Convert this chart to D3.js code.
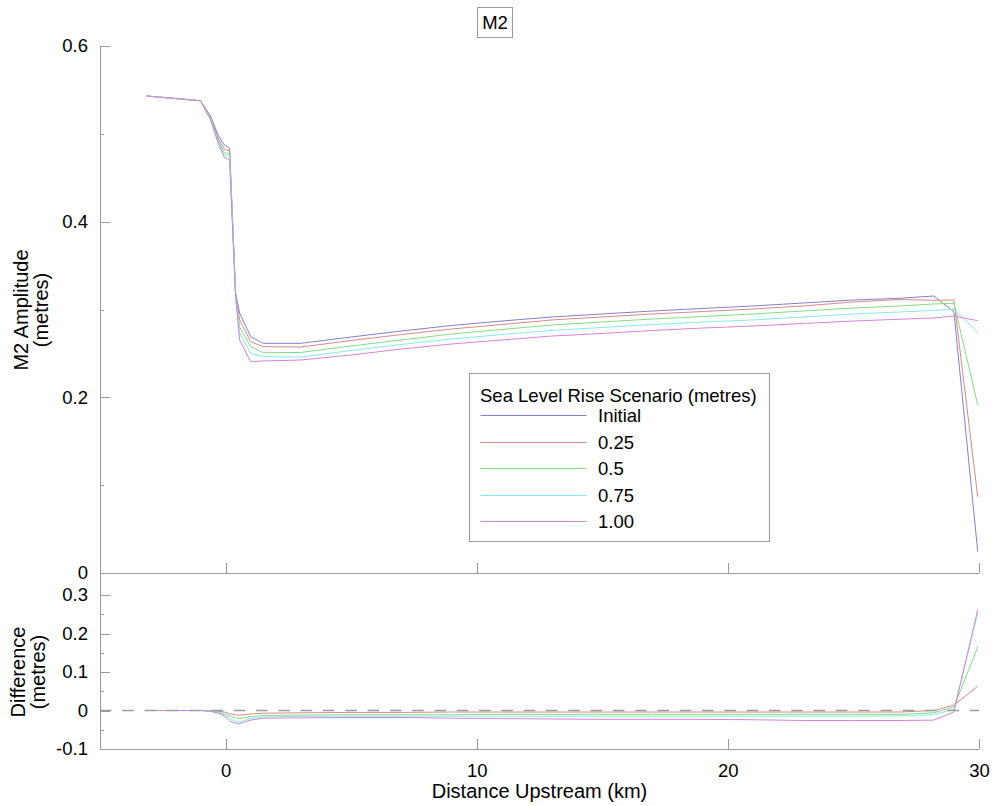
<!DOCTYPE html>
<meta charset="utf-8">
<style>
body { margin: 0; background: #fff; }
svg text { font-family: Arial, "Liberation Sans", sans-serif; font-size: 18.5px; fill: #000; }
svg text.title { font-size: 20px; }
.axis path, .axis line { stroke: #999; shape-rendering: crispEdges; }
.series { fill: none; stroke-width: 1px; }
</style>
<body>
<svg width="992" height="806"></svg>
<script src="https://d3js.org/d3.v7.min.js"></script>
<script>
var svg = d3.select("svg");

// distance upstream (km) shared by every series
var distKm = [-3.15, -1.0, -0.6, -0.3, -0.05, 0.16, 0.4, 0.56, 1.0, 1.5, 3.0, 5, 7, 9, 11, 13, 15, 17, 19, 21, 23, 25, 26.85, 28.2, 29.0, 29.95];

// M2 amplitude (metres) for each sea level rise scenario
var ampInitial = [0.5431, 0.5377, 0.5203, 0.4987, 0.4873, 0.4835, 0.3188, 0.2960, 0.2690, 0.2615, 0.2615, 0.2687, 0.2755, 0.2818, 0.2869, 0.2915, 0.2949, 0.2983, 0.3012, 0.3040, 0.3074, 0.3108, 0.3128, 0.3154, 0.2975, 0.0243];
var amp025 = [0.5431, 0.5377, 0.5192, 0.4953, 0.4824, 0.4805, 0.3177, 0.2881, 0.2634, 0.2577, 0.2573, 0.2647, 0.2715, 0.2778, 0.2829, 0.2881, 0.2915, 0.2949, 0.2977, 0.3006, 0.3040, 0.3086, 0.3114, 0.3105, 0.3108, 0.0869];
var amp050 = [0.5431, 0.5377, 0.5180, 0.4930, 0.4785, 0.4771, 0.3165, 0.2801, 0.2577, 0.2508, 0.2511, 0.2585, 0.2653, 0.2721, 0.2772, 0.2824, 0.2858, 0.2892, 0.2920, 0.2949, 0.2983, 0.3017, 0.3040, 0.3063, 0.3071, 0.1913];
var amp075 = [0.5431, 0.5377, 0.5169, 0.4913, 0.4759, 0.4740, 0.3154, 0.2733, 0.2501, 0.2463, 0.2459, 0.2533, 0.2602, 0.2664, 0.2715, 0.2761, 0.2795, 0.2829, 0.2858, 0.2881, 0.2915, 0.2949, 0.2972, 0.2989, 0.3002, 0.2736];
var amp100 = [0.5431, 0.5377, 0.5158, 0.4896, 0.4733, 0.4702, 0.3142, 0.2653, 0.2406, 0.2414, 0.2425, 0.2482, 0.2550, 0.2607, 0.2653, 0.2698, 0.2727, 0.2761, 0.2789, 0.2812, 0.2841, 0.2869, 0.2889, 0.2903, 0.2926, 0.2873];

// difference from the initial run (metres)
var diff025 = [0, 0, -0.001, -0.002, -0.004, -0.008, -0.011, -0.012, -0.009, -0.007, -0.006, -0.005, -0.005, -0.004, -0.004, -0.004, -0.004, -0.004, -0.004, -0.004, -0.004, -0.004, -0.004, 0.000, 0.014, 0.063];
var diff050 = [0, 0, -0.001, -0.004, -0.008, -0.014, -0.019, -0.021, -0.016, -0.013, -0.012, -0.011, -0.011, -0.011, -0.010, -0.010, -0.010, -0.010, -0.010, -0.010, -0.010, -0.010, -0.010, -0.006, 0.009, 0.165];
var diff075 = [0, 0, -0.002, -0.005, -0.011, -0.021, -0.028, -0.030, -0.021, -0.017, -0.015, -0.015, -0.015, -0.015, -0.015, -0.015, -0.015, -0.015, -0.015, -0.015, -0.015, -0.015, -0.014, -0.011, 0.003, 0.252];
var diff100 = [0, 0, -0.002, -0.007, -0.014, -0.027, -0.033, -0.034, -0.025, -0.020, -0.019, -0.018, -0.018, -0.020, -0.021, -0.022, -0.023, -0.023, -0.023, -0.024, -0.026, -0.026, -0.026, -0.025, -0.004, 0.262];

var scenarioNames = ["Initial", "0.25", "0.5", "0.75", "1.00"];
var scenarioColors = ["#8282c8", "#d88a8a", "#84dc84", "#84ecec", "#d884d8"];

var ampSeries = [ampInitial, amp025, amp050, amp075, amp100];
var diffSeries = [diff025, diff050, diff075, diff100];

var xTicks = [0, 10, 20, 30];
var ampTicks = [0, 0.2, 0.4, 0.6];
var ampMinor = [0.1, 0.3, 0.5];
var diffTicks = [-0.1, 0, 0.1, 0.2, 0.3];
var diffMinor = [-0.05, 0.05, 0.15, 0.25];

// layout of the two stacked panels
var left = 100, right = 979;
var topY0 = 46, topY1 = 573;   // upper panel
var botY0 = 573, botY1 = 749;  // lower panel

var x = d3.scaleLinear().domain([-5, 30]).range([left, right]);
var yAmp = d3.scaleLinear().domain([0, 0.6]).range([topY1, topY0]);
var yDiff = d3.scaleLinear().domain([-0.1, 0.3]).range([botY1, 595]);

var fmt = function(d) { return d === 0 ? "0" : String(+d.toFixed(2)); };

/*
 * AXES
 */
function yAxis(scale, major, minor, y0, y1) {
    var g = svg.append("g").attr("class", "axis")
        .attr("transform", "translate(" + left + ",0)");
    g.call(d3.axisLeft(scale).tickValues(major).tickSize(-10).tickPadding(12).tickFormat(fmt));
    g.append("g").call(d3.axisLeft(scale).tickValues(minor).tickSize(-4).tickFormat(""));
    g.selectAll(".domain").remove();
    g.attr("font-size", null).attr("font-family", null);
    g.append("line")
     .attr("x1", 0).attr("x2", 0)
     .attr("y1", y0).attr("y2", y1);
    return g;
}

function xAxis(yPos, labels) {
    var g = svg.append("g").attr("class", "axis")
        .attr("transform", "translate(0," + yPos + ")");
    g.call(d3.axisBottom(x).tickValues(xTicks).tickSize(-10).tickPadding(15)
        .tickFormat(labels ? d3.format("d") : ""));
    g.selectAll(".domain").remove();
    g.attr("font-size", null).attr("font-family", null);
    g.append("line")
     .attr("x1", left).attr("x2", right)
     .attr("y1", 0).attr("y2", 0);
    return g;
}

yAxis(yAmp, ampTicks, ampMinor, topY0, topY1);
yAxis(yDiff, diffTicks, diffMinor, botY0, botY1);
xAxis(topY1, false);
xAxis(botY1, true);

/*
 * LINES
 */
var ampLine = d3.line()
    .x(function(d, i) { return x(distKm[i]); })
    .y(function(d) { return yAmp(d); });
var diffLine = d3.line()
    .x(function(d, i) { return x(distKm[i]); })
    .y(function(d) { return yDiff(d); });

svg.append("g").selectAll("path")
    .data(ampSeries)
    .enter().append("path")
    .attr("class", "series")
    .attr("d", ampLine)
    .style("stroke", function(d, i) { return scenarioColors[i]; });

svg.append("g").selectAll("path")
    .data(diffSeries)
    .enter().append("path")
    .attr("class", "series")
    .attr("d", diffLine)
    .style("stroke", function(d, i) { return scenarioColors[i + 1]; });

// zero reference on the difference panel
svg.append("line")
    .attr("x1", x(-5)).attr("x2", x(30))
    .attr("y1", yDiff(0)).attr("y2", yDiff(0))
    .style("stroke", "#9a9a9a")
    .style("stroke-width", 1.6)
    .style("stroke-dasharray", "11.5,10.8");

/*
 * TEXT
 */
// title in a box
svg.append("rect")
    .attr("x", 477.5).attr("y", 7.5)
    .attr("width", 35).attr("height", 30)
    .style("fill", "none").style("stroke", "#999");
svg.append("text")
    .attr("x", 495).attr("y", 29)
    .attr("text-anchor", "middle")
    .text("M2");

svg.append("text")
    .attr("class", "title")
    .attr("x", (left + right) / 2).attr("y", 798)
    .attr("text-anchor", "middle")
    .text("Distance Upstream (km)");

function yTitle(lines, cy, xs) {
    lines.forEach(function(t, i) {
        svg.append("text")
            .attr("class", "title")
            .attr("transform", "translate(" + xs[i] + "," + cy + ") rotate(-90)")
            .attr("text-anchor", "middle")
            .text(t);
    });
}
yTitle(["M2 Amplitude", "(metres)"], 310, [28, 48]);
yTitle(["Difference", "(metres)"], 672, [25, 45]);

/*
 * LEGEND
 */
var legend = svg.append("g").attr("transform", "translate(469.5,373.5)");
legend.append("rect")
    .attr("width", 300).attr("height", 168)
    .style("fill", "#fff").style("stroke", "#999");
legend.append("text")
    .attr("x", 10.5).attr("y", 28.5)
    .text("Sea Level Rise Scenario (metres)");

var items = legend.selectAll("g.item")
    .data(scenarioNames)
    .enter().append("g")
    .attr("class", "item")
    .attr("transform", function(d, i) { return "translate(0," + (41.5 + Math.round(i * 26.5)) + ")"; });
items.append("line")
    .attr("x1", 11).attr("x2", 117)
    .attr("y1", 0.5).attr("y2", 0.5)
    .style("stroke", function(d, i) { return scenarioColors[i]; })
    .style("stroke-width", 1);
items.append("text")
    .attr("x", 128.5).attr("y", 7)
    .text(function(d) { return d; });
</script>
</body>
</html>
